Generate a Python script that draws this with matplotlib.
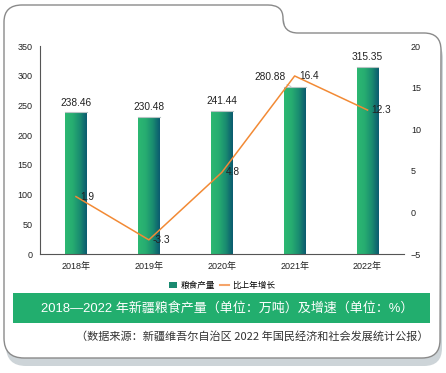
import matplotlib
matplotlib.use("Agg")
import matplotlib.pyplot as plt
import numpy as np
from matplotlib.path import Path
from matplotlib.patches import PathPatch, Rectangle, Patch
from matplotlib.lines import Line2D
from matplotlib.colors import LinearSegmentedColormap

plt.rcParams['font.family'] = ['Liberation Sans', 'Noto Sans CJK SC']
plt.rcParams['axes.unicode_minus'] = True

years = ["2018年", "2019年", "2020年", "2021年", "2022年"]
output = [238.46, 230.48, 241.44, 280.88, 315.35]
growth = [1.9, -3.3, 4.8, 16.4, 12.3]
left_ticks = [0, 50, 100, 150, 200, 250, 300, 350]
right_ticks = [-5, 0, 5, 10, 15, 20]
legend_labels = ["粮食产量", "比上年增长"]
title = "2018—2022 年新疆粮食产量（单位：万吨）及增速（单位：%）"
source = "（数据来源：新疆维吾尔自治区 2022 年国民经济和社会发展统计公报）"

W, H = 446, 373
fig = plt.figure(figsize=(W / 100, H / 100), dpi=100)
fig.patch.set_facecolor("white")

# background axes in pixel coordinates
bg = fig.add_axes([0, 0, 1, 1], zorder=0)
bg.set_xlim(0, W)
bg.set_ylim(H, 0)
bg.axis("off")

def frame_path(dx=0, dy=0):
    pts = [
        (4, 22), (4, 5), (22, 5),
        (268, 5), (283, 5), (283, 18),
        (283, 33), (298, 33),
        (424, 33), (441, 33), (441, 50),
        (440, 340), (440, 358), (422, 358),
        (24, 358), (4, 358), (4, 338),
        (4, 22),
    ]
    codes = [Path.MOVETO, Path.CURVE3, Path.CURVE3,
             Path.LINETO, Path.CURVE3, Path.CURVE3,
             Path.CURVE3, Path.CURVE3,
             Path.LINETO, Path.CURVE3, Path.CURVE3,
             Path.LINETO, Path.CURVE3, Path.CURVE3,
             Path.LINETO, Path.CURVE3, Path.CURVE3,
             Path.CLOSEPOLY]
    pts = [(x + dx, y + dy) for x, y in pts]
    return Path(pts, codes)

bg.add_patch(PathPatch(frame_path(2, 8), facecolor="#cdd4d8", edgecolor="none"))
bg.add_patch(PathPatch(frame_path(), facecolor="white", edgecolor="#8a8a8a", lw=1.0))

# banner
bg.add_patch(Rectangle((13, 293), 417, 30, facecolor="#22ae6e", edgecolor="none"))
bg.text(227, 308.5, title, color="white", fontsize=9.4, ha="center", va="center",
        family=["Liberation Sans", "Noto Sans CJK SC"])
bg.text(428, 336, source, color="#333333", fontsize=8.0, ha="right", va="center",
        family=["Noto Sans CJK SC", "DejaVu Sans"])

# main axes
l, r, b, t = 39.5 / W, 404 / W, (H - 254) / H, (H - 46) / H
ax = fig.add_axes([l, b, r - l, t - b], zorder=2)
ax.patch.set_alpha(0)
x = np.arange(len(years))
bars = ax.bar(x, output, width=0.3, facecolor="none", edgecolor="none")

cmap = LinearSegmentedColormap.from_list(
    "g", ["#2cb872", "#27ad71", "#1a8e70", "#0b5a6f"])
grad = np.linspace(0, 1, 64).reshape(1, -1)
for bar in bars:
    x0 = bar.get_x()
    w = bar.get_width()
    h = bar.get_height()
    im = ax.imshow(grad, cmap=cmap, extent=[x0, x0 + w, 0, h], aspect="auto",
                   interpolation="bicubic", zorder=2)
    im.set_clip_path(bar)
    ax.plot([x0, x0 + w], [h, h], color="#b8c4c4", lw=0.8, zorder=3)

ax.set_xlim(-0.5, len(years) - 0.5)
ax.set_ylim(0, 350)
ax.set_yticks(left_ticks)
ax.set_xticks(x)
ax.set_xticklabels(years)
for sp in ["top", "right"]:
    ax.spines[sp].set_visible(False)
ax.spines["left"].set_color("#555555")
ax.spines["bottom"].set_color("#555555")
ax.spines["left"].set_linewidth(0.8)
ax.spines["bottom"].set_linewidth(0.8)
ax.tick_params(axis="y", length=0, pad=5, labelsize=6.5, colors="#222222")
ax.tick_params(axis="x", length=0, pad=6, labelsize=6.5, colors="#222222")

for i, v in enumerate(output):
    if i == 3:
        ax.annotate(f"{v:.2f}", xy=(i - 0.05, v + 1), xytext=(-15, 7),
                    textcoords="offset points", ha="center", va="center",
                    fontsize=7.3, color="#222222",
                    arrowprops=dict(arrowstyle="-", color="#bbbbbb", lw=0.6,
                                    shrinkA=0, shrinkB=0))
    else:
        ax.annotate(f"{v:.2f}", xy=(i, v), xytext=(0, 7), textcoords="offset points",
                    ha="center", va="center", fontsize=7.3, color="#222222")

ax2 = ax.twinx()
ax2.set_zorder(3)
ax2.set_ylim(-5, 20)
ax2.set_yticks(right_ticks)
for sp in ["top", "right", "left", "bottom"]:
    ax2.spines[sp].set_visible(False)
ax2.tick_params(axis="y", length=0, pad=5, labelsize=6.5, colors="#222222")
ax2.plot(x, growth, color="#f28a35", lw=1.1, zorder=4)
for i, v in enumerate(growth):
    ax2.annotate(f"{v:.1f}", xy=(i, v), xytext=(3, 0), textcoords="offset points",
                 ha="left", va="center", fontsize=7.3, color="#222222")

handles = [Patch(facecolor="#1a8a70", edgecolor="none"),
           Line2D([0], [0], color="#f5a46a", lw=1.5)]
fig.legend(handles, legend_labels, loc="center", bbox_to_anchor=(222 / W, 1 - 285.5 / H),
           ncol=2, frameon=False, handlelength=1.0, handleheight=0.7,
           handletextpad=0.4, columnspacing=0.6,
           prop={"family": ["Noto Sans CJK SC"], "size": 6.2})

fig.savefig("out.png", dpi=100)
